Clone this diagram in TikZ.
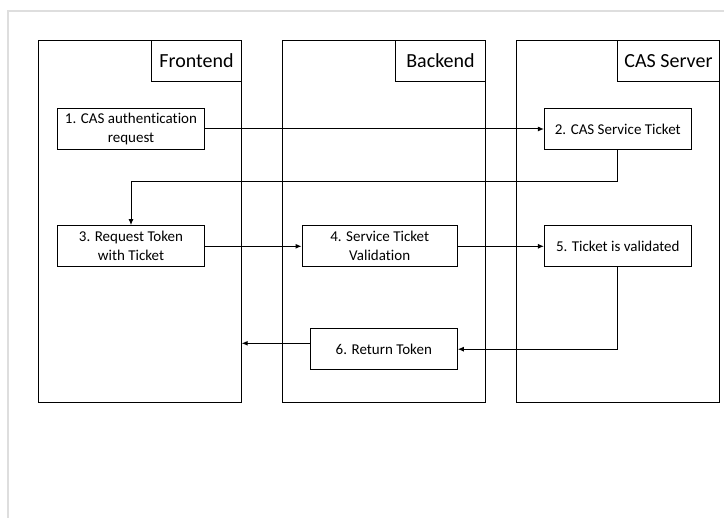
\documentclass[tikz,border=0pt]{standalone}
\usepackage{fontspec}
\setmainfont{Carlito}[Ligatures={NoCommon}]
\usetikzlibrary{arrows.meta,calc}
\begin{document}
\begin{tikzpicture}[x=1pt,y=-1pt,
  col/.style={draw,line width=1pt,rectangle,minimum width=203pt,minimum height=361.7pt,inner sep=0pt},
  ttl/.style={draw,line width=1pt,rectangle,minimum height=40.7pt,inner sep=0pt,font=\fontsize{20}{24}\selectfont,anchor=north east},
  stepbox/.style={draw,line width=1pt,rectangle,minimum width=146.7pt,minimum height=41.4pt,inner sep=0pt,align=center,font=\fontsize{15}{19}\selectfont},
  arr/.style={line width=1pt,-{Latex[length=6pt,width=5pt]}},
  ln/.style={line width=1pt}
]
\useasboundingbox (0,0) rectangle (724,518);
\draw[line width=1.5pt,color=black!13] (8,518) -- (8,11) -- (724,11);

\node[col] (fe) at (139.7,221.2) {};
\node[col] (be) at (384,221.2) {};
\node[col] (cs) at (617.8,221.2) {};

\node[ttl,minimum width=89.3pt] (tfe) at (fe.north east) {Frontend};
\node[ttl,minimum width=90pt] (tbe) at (be.north east) {Backend};
\node[ttl,minimum width=101.6pt] (tcs) at (cs.north east) {CAS Server};

\node[stepbox] (b1) at (131,129) {1. CAS authentication\\request};
\node[stepbox] (b2) at (617.8,129) {2. CAS Service Ticket};
\node[stepbox] (b3) at (131,246.3) {3. Request Token\\with Ticket};
\node[stepbox,minimum width=155.3pt] (b4) at (379.7,246.3) {4. Service Ticket\\Validation};
\node[stepbox] (b5) at (617.8,246.3) {5. Ticket is validated};
\node[stepbox,minimum width=147pt,minimum height=41pt] (b6) at (383.8,349.2) {6. Return Token};

\coordinate (j1) at (131,182);

\draw[arr] (b1.east) -- (b2.west);
\draw[arr] (b2.south) |- (j1) -- (b3.north);
\draw[arr] (b3.east) -- (b4.west);
\draw[arr] (b4.east) -- (b5.west);
\draw[arr] (b5.south) |- (b6.east);
\draw[arr] ([yshift=5.9pt]b6.west) -- ([yshift=5.9pt]b6.west -| fe.east);
\end{tikzpicture}
\end{document}
